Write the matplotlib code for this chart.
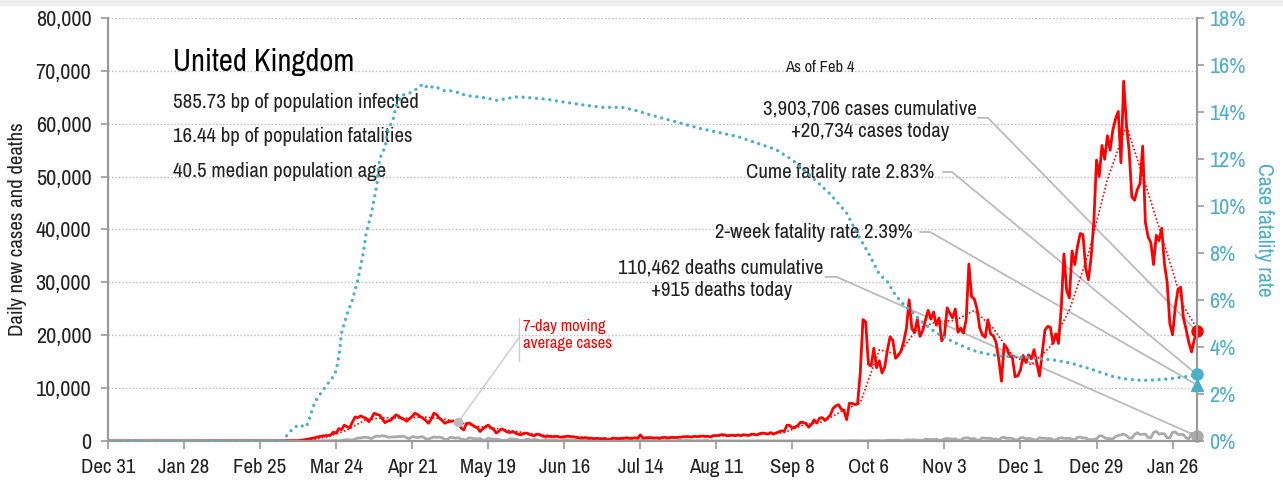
import matplotlib
matplotlib.use("Agg")
import matplotlib.pyplot as plt
import numpy as np
import pandas as pd
from matplotlib.patches import Rectangle

plt.rcParams['font.family'] = ['Archivo Narrow', 'DejaVu Sans']

# day 0 = Dec 31 2019, last day (401) = Feb 4 2021
tick_labels = ['Dec 31', 'Jan 28', 'Feb 25', 'Mar 24', 'Apr 21', 'May 19', 'Jun 16',
               'Jul 14', 'Aug 11', 'Sep 8', 'Oct 6', 'Nov 3', 'Dec 1', 'Dec 29', 'Jan 26']

cases_before_mar = [0] * 61
cases_mar = [13, 4, 11, 34, 30, 48, 43, 67, 48, 52,
             130, 200, 300, 400, 500, 600, 750, 850, 950, 1000,
             1050, 1130, 1700, 1450, 2350, 2150, 3000, 2700, 2500, 3600, 4550]
cases_apr = [4400, 4750, 4500, 4280, 3650, 4300, 5250, 5000, 4900, 4200,
             3450, 3800, 3900, 4400, 4950, 4700, 4300, 4100, 3750, 4200,
             4650, 5250, 5000, 4600, 4300, 3900, 3350, 4100, 5250, 5000]
cases_may = [4300, 3900, 3350, 3600, 3700, 3800, 3650, 3200, 2500, 2080,
             3300, 3400, 3100, 2700, 2500, 1800, 2300, 2700, 3000, 2500,
             2200, 1500, 1900, 2300, 2000, 1700, 1600, 1800, 1500, 1300, 1150]
cases_jun = [1400, 1500, 1300, 1100, 1000, 1300, 1200, 900, 850, 900,
             850, 800, 900, 750, 700, 800, 900, 850, 800, 750,
             600, 550, 600, 650, 500, 550, 450, 500, 450, 400]
cases_jul = [500, 150, 350, 550, 500, 450, 500, 550, 600, 500,
             550, 600, 500, 1150, 550, 600, 650, 600, 550, 600,
             500, 650, 700, 600, 650, 700, 650, 700, 750, 800, 850]
cases_aug = [800, 750, 900, 800, 900, 950, 850, 900, 750, 1050,
             1000, 1100, 1200, 1150, 1000, 1050, 1100, 1000, 1150, 1000,
             1200, 1100, 1050, 1300, 1250, 1150, 1400, 1500, 1450, 1300, 1600]
cases_sep = [1295, 1508, 1735, 1940, 1813, 2988, 2948, 2460, 2659, 2919,
             3539, 3497, 3330, 2621, 3105, 3991, 3395, 4322, 4422, 3899,
             4368, 4926, 6178, 6634, 6874, 6042, 5693, 4044, 7143, 7108]
cases_oct = [6914, 6968, 12872, 22961, 22500, 14542, 14162, 17540, 13864, 15166,
             12872, 13972, 17234, 19724, 18980, 15650, 16171, 16982, 18804, 21331,
             26688, 21242, 20530, 23012, 19790, 20890, 22885, 24701, 23065, 24405, 21915]
cases_nov = [23254, 18950, 20018, 25177, 24141, 23287, 24957, 20572, 21350, 20412,
             22950, 33470, 27301, 26860, 24962, 21363, 20051, 19609, 22915, 20252,
             19875, 18662, 15450, 11299, 18213, 17555, 16022, 15871, 12155, 12330]
cases_dec = [13430, 16170, 14879, 16298, 15539, 17272, 14718, 12282, 16578, 20964,
             21672, 21502, 18447, 20263, 18450, 25161, 35383, 28507, 27052, 35928,
             33364, 36804, 39237, 39036, 32725, 30501, 34693, 41385, 53135, 50023, 55892]
cases_jan = [53285, 57725, 54990, 58784, 60916, 62322, 52618, 68053, 59937, 54940,
             46165, 45533, 47525, 48682, 55761, 41346, 38598, 37535, 33355, 38905,
             37892, 40261, 33552, 30004, 22195, 20089, 25308, 28680, 29079, 23275, 21088]
cases_feb = [18607, 16840, 19202, 20734]

deaths_before_mar = [0] * 61
deaths_mar = [0, 0, 0, 0, 1, 1, 0, 1, 1, 0,
              2, 2, 0, 10, 14, 20, 16, 33, 40, 33,
              56, 48, 54, 87, 41, 115, 181, 260, 209, 180, 381]
deaths_apr = [563, 569, 684, 708, 621, 439, 786, 938, 881, 980,
              917, 737, 717, 778, 761, 861, 847, 888, 596, 449,
              828, 763, 638, 768, 813, 413, 360, 586, 765, 674]
deaths_may = [739, 621, 315, 288, 693, 649, 539, 626, 346, 268,
              210, 627, 494, 428, 384, 468, 170, 160, 545, 363,
              338, 351, 282, 118, 121, 134, 412, 377, 324, 215, 113]
deaths_jun = [111, 324, 359, 176, 357, 204, 77, 55, 286, 245,
              151, 202, 181, 36, 38, 233, 184, 135, 173, 128,
              43, 15, 171, 154, 149, 186, 100, 36, 25, 155]
deaths_jul = [176, 89, 137, 67, 22, 16, 155, 126, 85, 48,
              148, 21, 11, 138, 85, 66, 114, 40, 11, 11,
              110, 79, 69, 123, 61, 14, 7, 119, 83, 38, 120]
deaths_aug = [74, 55, 8, 65, 65, 49, 98, 55, 8, 2,
              10, 17, 20, 17, 13, 11, 5, 12, 16, 6,
              2, 18, 4, 2, 16, 17, 12, 9, 1, 2, 12]
deaths_sep = [3, 3, 10, 6, 2, 2, 3, 32, 8, 14,
              6, 9, 5, 9, 27, 20, 21, 27, 27, 18,
              11, 37, 37, 40, 34, 17, 13, 14, 71, 66]
deaths_oct = [59, 66, 49, 33, 19, 76, 70, 77, 87, 65,
              65, 50, 143, 137, 138, 136, 150, 67, 80, 241,
              191, 189, 224, 174, 151, 102, 367, 310, 280, 274, 326]
deaths_nov = [162, 136, 397, 492, 378, 355, 413, 156, 194, 532,
              595, 563, 376, 462, 168, 213, 598, 529, 501, 511,
              341, 398, 206, 608, 696, 498, 521, 479, 215, 205]
deaths_dec = [603, 648, 414, 504, 397, 231, 189, 616, 533, 516,
              424, 519, 144, 232, 506, 612, 532, 489, 534, 326,
              215, 691, 744, 574, 570, 300, 210, 316, 357, 981, 964]
deaths_jan = [613, 445, 454, 407, 830, 1041, 1162, 1325, 1035, 563,
              529, 1243, 1564, 1248, 1280, 1295, 671, 599, 1610, 1820,
              1290, 1401, 1348, 610, 592, 1631, 1725, 1239, 1245, 1200, 587]
deaths_feb = [406, 1449, 1322, 915]

cfr_day = [0, 64, 66, 67, 70, 73, 74, 76, 77, 80, 83, 84, 85, 86, 88, 90, 92, 94, 95,
           97, 98, 99, 100, 102, 103, 105, 106, 108, 111, 114, 116, 118, 120, 124,
           127, 132, 139, 143, 151, 161, 169, 175, 182, 189, 195, 199, 218, 232, 246,
           252, 259, 266, 272, 276, 280, 284, 287, 290, 293, 296, 299, 302, 305, 307,
           312, 316, 320, 324, 328, 333, 338, 343, 348, 352, 355, 359, 362, 366, 371,
           376, 381, 386, 391, 395, 399, 401]
cfr_pct = [0, 0, 0.25, 0.4, 0.68, 0.6, 0.9, 1.6, 1.8, 2.3, 2.75, 3.0, 3.6, 4.6, 5.4, 6.0,
           6.85, 8.0, 8.8, 9.7, 10.3, 10.9, 12.0, 12.5, 13.2, 13.7, 14.2, 14.7, 14.8,
           15.0, 15.2, 15.0, 15.1, 14.9, 14.9, 14.7, 14.6, 14.5, 14.65, 14.55, 14.4,
           14.3, 14.2, 14.2, 14.05, 13.9, 13.3, 12.95, 12.4, 11.96, 11.25, 10.5, 9.7,
           8.8, 8.0, 7.1, 6.78, 6.2, 5.8, 5.5, 5.15, 4.86, 4.6, 4.47, 4.18, 3.97, 3.8,
           3.7, 3.62, 3.59, 3.56, 3.5, 3.45, 3.37, 3.3, 3.16, 3.06, 2.9, 2.71, 2.62,
           2.58, 2.6, 2.65, 2.71, 2.77, 2.83]

two_week_cfr = 2.39
cases_cumulative = 3903706
deaths_cumulative = 110462

cases = (cases_before_mar + cases_mar + cases_apr + cases_may + cases_jun + cases_jul
         + cases_aug + cases_sep + cases_oct + cases_nov + cases_dec + cases_jan + cases_feb)
deaths = (deaths_before_mar + deaths_mar + deaths_apr + deaths_may + deaths_jun + deaths_jul
          + deaths_aug + deaths_sep + deaths_oct + deaths_nov + deaths_dec + deaths_jan + deaths_feb)
days = np.arange(len(cases))
last = days[-1]

# weekly points of the 7-day trailing average, plus the last day
ma = pd.Series(cases).rolling(7, min_periods=1).mean()
ma_days = list(range(4, last + 1, 7))
if ma_days[-1] != last:
    ma_days.append(last)

RED = '#ff0000'
BLUE = '#4aafc9'
GREY = '#aaaaaa'
LEAD = '#bbbbbb'
SPINE = '#999999'
TXT = '#222222'

fig = plt.figure(figsize=(12.83, 4.82), dpi=100)
fig.patches.append(Rectangle((0, 0.99), 1, 0.01, transform=fig.transFigure,
                             color='#eeeeee', zorder=0))
ax = fig.add_axes([108 / 1283, 41 / 482, 1089 / 1283, 423 / 482])
ax2 = ax.twinx()

ax.set_xlim(0, last)
ax.set_ylim(0, 80000)
ax2.set_ylim(0, 18)

ax.plot(days, deaths, color=GREY, lw=2, zorder=3)
ax.plot(days, cases, color=RED, lw=2, zorder=4)
ax.plot(ma_days, ma[ma_days], color=RED, lw=1.2, linestyle=(0, (1, 1.3)), zorder=4)
ax2.plot(cfr_day, cfr_pct, color=BLUE, lw=2.4, linestyle=(0, (0.01, 2.0)),
         dash_capstyle='round', zorder=3)

ax.plot(last, cases[-1], 'o', color=RED, ms=8, clip_on=False, zorder=6)
ax.plot(last, deaths[-1], 'o', color=GREY, ms=8, clip_on=False, zorder=6)
ax2.plot(last, cfr_pct[-1], 'o', color=BLUE, ms=8, clip_on=False, zorder=6)
ax2.plot(last, two_week_cfr, '^', color=BLUE, ms=8, clip_on=False, zorder=6)
ma_dot_day = 129
ax.plot(ma_dot_day, ma[ma_dot_day], 'o', color='#bbbbbb', ms=6, zorder=6)

ax.set_xticks(range(0, last + 1, 28))
ax.set_xticklabels(tick_labels)
ax.set_yticks(range(0, 80001, 10000))
ax.set_yticklabels([f'{v:,}' for v in range(0, 80001, 10000)])
ax2.set_yticks(range(0, 19, 2))
ax2.set_yticklabels([f'{v}%' for v in range(0, 19, 2)])
ax.grid(axis='y', linestyle=(0, (1, 1.5)), color='#bbbbbb', lw=1)
ax.set_axisbelow(True)
for a in (ax, ax2):
    a.spines['top'].set_visible(False)
    for s in ('left', 'right', 'bottom'):
        a.spines[s].set_color(SPINE)
        a.spines[s].set_linewidth(1.5)
ax.tick_params(axis='x', colors=SPINE, labelcolor=TXT, labelsize=15, length=6, width=1.2, pad=6)
ax.tick_params(axis='y', colors=SPINE, labelcolor=TXT, labelsize=16, length=5, width=1.2, pad=7)
ax2.tick_params(axis='y', colors=SPINE, labelcolor=BLUE, labelsize=16, length=5, width=1.2, pad=4)
ax.set_ylabel('Daily new cases and deaths', fontsize=15, color=TXT, labelpad=6)
ax2.set_ylabel('Case fatality rate', fontsize=15.5, color=BLUE, rotation=270, labelpad=20)

ax.text(0.0597, 0.896, 'United Kingdom', transform=ax.transAxes, fontsize=22,
        color='black', va='center')
ax.text(0.0597, 0.801, '585.73 bp of population infected', transform=ax.transAxes,
        fontsize=15, color=TXT, va='center')
ax.text(0.0597, 0.719, '16.44 bp of population fatalities', transform=ax.transAxes,
        fontsize=15, color=TXT, va='center')
ax.text(0.0597, 0.636, '40.5 median population age', transform=ax.transAxes,
        fontsize=15, color=TXT, va='center')
ax.text(0.654, 0.882, 'As of Feb 4', transform=ax.transAxes, fontsize=12,
        color=TXT, ha='center', va='center')


def to_axes_frac(a, x, y):
    return ax.transAxes.inverted().transform(a.transData.transform((x, y)))


def leader(x0, x1, y0, a, tx, ty):
    px, py = to_axes_frac(a, tx, ty)
    ax.plot([x0, x1, px], [y0, y0, py], color=LEAD, lw=1.3, transform=ax.transAxes,
            clip_on=False, zorder=2)


ax.text(0.700, 0.759, f'{cases_cumulative:,} cases cumulative\n+{cases[-1]:,} cases today',
        transform=ax.transAxes, fontsize=15, color=TXT, ha='center', va='center',
        linespacing=1.25)
leader(0.799, 0.808, 0.764, ax, last, cases[-1])

ax.text(0.759, 0.634, f'Cume fatality rate {cfr_pct[-1]:.2f}%', transform=ax.transAxes,
        fontsize=15, color=TXT, ha='right', va='center')
leader(0.767, 0.775, 0.636, ax2, last, cfr_pct[-1])

ax.text(0.739, 0.492, f'2-week fatality rate {two_week_cfr:.2f}%', transform=ax.transAxes,
        fontsize=15, color=TXT, ha='right', va='center')
leader(0.746, 0.755, 0.494, ax2, last, two_week_cfr)

ax.text(0.563, 0.383, f'{deaths_cumulative:,} deaths cumulative\n+{deaths[-1]:,} deaths today',
        transform=ax.transAxes, fontsize=15, color=TXT, ha='center', va='center',
        linespacing=1.25)
leader(0.659, 0.669, 0.388, ax, last, deaths[-1])

ax.text(0.381, 0.251, '7-day moving\naverage cases', transform=ax.transAxes,
        fontsize=12, color=RED, ha='left', va='center', linespacing=1.2)
ax.plot([0.377, 0.377], [0.189, 0.291], color='#cccccc', lw=1, transform=ax.transAxes)
mx, my = to_axes_frac(ax, ma_dot_day, ma[ma_dot_day])
ax.plot([0.377, mx], [0.243, my], color='#cccccc', lw=1, transform=ax.transAxes)

fig.savefig('out.png', dpi=100)
